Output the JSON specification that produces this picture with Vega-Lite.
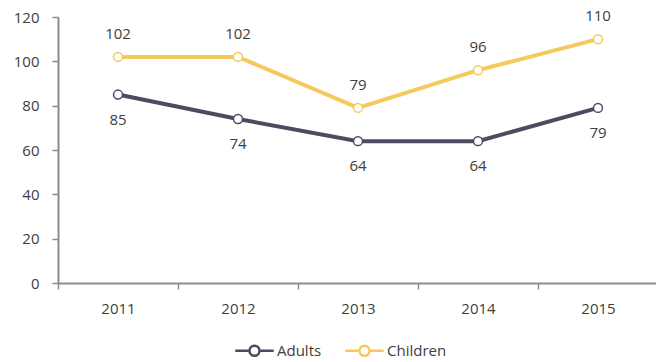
{
  "$schema": "https://vega.github.io/schema/vega-lite/v6.json",
  "autosize": "none",
  "width": 600,
  "height": 266,
  "padding": {"left": 58, "top": 17, "right": 0, "bottom": 79},
  "config": {
    "view": {"stroke": null},
    "font": "Open Sans",
    "axis": {"labelFont": "Open Sans", "labelFontSize": 15, "labelColor": "#404040", "domainColor": "#8c8c8c", "tickColor": "#8c8c8c", "domainWidth": 2, "tickWidth": 1.5, "grid": false, "title": null},
    "legend": {"labelFont": "Open Sans", "labelFontSize": 15, "labelColor": "#404040"}
  },
  "data": {
    "values": [
      {"year": "2011", "group": "Adults", "value": 85},
      {"year": "2012", "group": "Adults", "value": 74},
      {"year": "2013", "group": "Adults", "value": 64},
      {"year": "2014", "group": "Adults", "value": 64},
      {"year": "2015", "group": "Adults", "value": 79},
      {"year": "2011", "group": "Children", "value": 102},
      {"year": "2012", "group": "Children", "value": 102},
      {"year": "2013", "group": "Children", "value": 79},
      {"year": "2014", "group": "Children", "value": 96},
      {"year": "2015", "group": "Children", "value": 110}
    ]
  },
  "encoding": {
    "x": {"field": "year", "type": "ordinal", "scale": {"type": "band", "paddingInner": 0, "paddingOuter": 0},
      "axis": {"labelAngle": 0, "tickBand": "extent", "tickSize": 6, "labelPadding": 12}},
    "y": {"field": "value", "type": "quantitative", "scale": {"domain": [0, 120]},
      "axis": {"values": [0, 20, 40, 60, 80, 100, 120], "tickSize": 6, "labelPadding": 13}}
  },
  "layer": [
    {"mark": {"type": "line", "strokeWidth": 4},
      "encoding": {"color": {"field": "group", "type": "nominal",
        "scale": {"domain": ["Adults", "Children"], "range": ["#4b4b63", "#f5c95c"]},
        "legend": {"title": null, "orient": "none", "legendX": 183, "legendY": 320, "direction": "horizontal",
          "symbolType": "M -1.6 0 L -0.42 0 M 0.42 0 L 1.6 0 M -0.42 0 A 0.42 0.42 0 1 1 0.42 0 A 0.42 0.42 0 1 1 -0.42 0",
          "symbolSize": 576, "symbolStrokeWidth": 2.5, "symbolFillColor": "white", "labelOffset": 9, "columnPadding": 18}}}},
    {"mark": {"type": "point", "filled": false, "fill": "white", "fillOpacity": 1, "size": 80, "strokeWidth": 1.5, "opacity": 1},
      "encoding": {"stroke": {"field": "group", "type": "nominal", "scale": {"domain": ["Adults", "Children"], "range": ["#4b4b63", "#f5c95c"]}, "legend": null}}},
    {"transform": [{"filter": "datum.group == 'Children'"}],
      "mark": {"type": "text", "dy": -23, "fontSize": 15, "font": "Open Sans", "color": "#404040"},
      "encoding": {"text": {"field": "value"}}},
    {"transform": [{"filter": "datum.group == 'Adults'"}],
      "mark": {"type": "text", "dy": 25, "fontSize": 15, "font": "Open Sans", "color": "#404040"},
      "encoding": {"text": {"field": "value"}}}
  ]
}
